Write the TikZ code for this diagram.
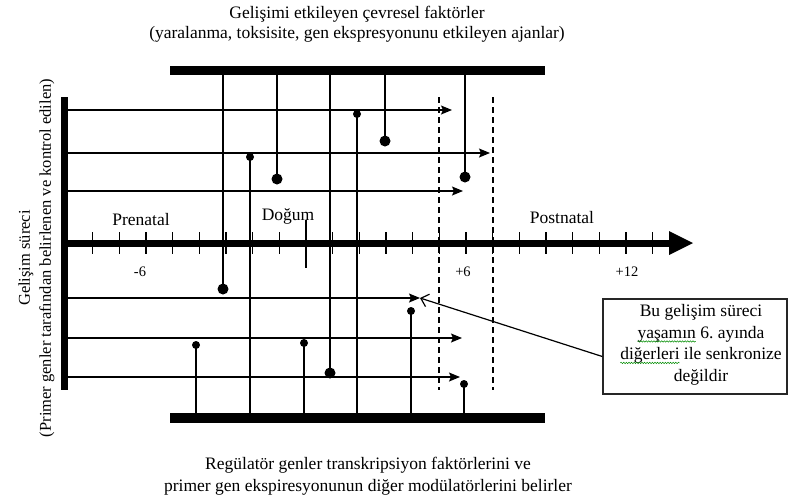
\documentclass[tikz,border=0pt]{standalone}
\usepackage{fontspec}
\setmainfont{Liberation Serif}
\usetikzlibrary{arrows.meta,decorations.pathmorphing}

% spell-check style green wavy underline
\newcommand\wavyword[1]{\tikz[baseline=(w.base)]{\node[inner sep=0pt,outer sep=0pt](w){#1};
  \draw[overlay,draw=green!55!black,line width=0.5pt,decorate,
        decoration={snake,amplitude=0.7pt,segment length=2.6pt}]
        ([yshift=-3pt]w.base west) -- ([yshift=-3pt]w.base east);}}

\begin{document}
\begin{tikzpicture}[x=1pt,y=-1pt,
  thickbar/.style={line width=9.5pt},
  sidebar/.style={line width=7pt},
  thinline/.style={line width=1.3pt},
  arrline/.style={thinline,-{Stealth[length=11pt,width=9pt,inset=2pt]}},
  tickmark/.style={line width=1.5pt},
  dashline/.style={line width=1.5pt,dash pattern=on 6pt off 4pt},
  bigdot/.style={circle,fill,inner sep=0pt,minimum size=11pt},
  smalldot/.style={circle,fill,inner sep=0pt,minimum size=8pt},
  bigtext/.style={font=\fontsize{17.5}{21}\selectfont,inner sep=0pt,align=center},
  numtext/.style={font=\fontsize{14.5}{17}\selectfont,inner sep=0pt},
  notebox/.style={draw=black!85,line width=1.4pt,minimum width=184pt,minimum height=95pt,inner sep=0pt}
]
\useasboundingbox (0,0) rectangle (795,499);

% ---- horizontal developmental lines (from the side bar) ----
\foreach \y/\t [count=\i] in {110/452,153/490,191/463,298/420,338/462,377/460}{
  \coordinate (hs\i) at (68,\y);
  \coordinate (he\i) at (\t,\y);
  \draw[arrline] (hs\i) -- (he\i);
}

% ---- dashed time window ----
\coordinate (da1) at (439,97);  \coordinate (db1) at (439,390);
\coordinate (da2) at (493,97);  \coordinate (db2) at (493,390);
\draw[dashline] (da1) -- (db1);
\draw[dashline] (da2) -- (db2);

% ---- environmental influences (from the top bar) ----
\foreach \x/\y [count=\i] in {223/289,277/179,330/373,385/141,465/177}{
  \coordinate (ta\i) at (\x,70);
  \node[bigdot] (tb\i) at (\x,\y) {};
  \draw[thinline] (ta\i) -- (tb\i.center);
}

% ---- regulatory influences (from the bottom bar) ----
\foreach \x/\y [count=\i] in {196/345,250/157,304/343,357/114,411/311,464/384}{
  \coordinate (ba\i) at (\x,418);
  \node[smalldot] (bb\i) at (\x,\y) {};
  \draw[thinline] (ba\i) -- (bb\i.center);
}

% ---- time axis ----
\coordinate (ax0) at (64,243);
\coordinate (ax1) at (672,243);
\draw[sidebar] (ax0) -- (ax1);
\fill (669,231) -- (693,243) -- (669,255) -- cycle;
\foreach \v in {-8,...,13}{
  \draw[tickmark] ({306+26.67*\v},232) -- ({306+26.67*\v},254);
}
\coordinate (birthA) at (306,220);
\coordinate (birthB) at (306,268);
\draw[tickmark] (birthA) -- (birthB);

% ---- bars ----
\coordinate (sbA) at (64.5,97);  \coordinate (sbB) at (64.5,390);
\draw[sidebar] (sbA) -- (sbB);
\coordinate (tbA) at (170,70.5); \coordinate (tbB) at (545,70.5);
\draw[thickbar] (tbA) -- (tbB);
\coordinate (bbA) at (170,418);  \coordinate (bbB) at (545,418);
\draw[thickbar] (bbA) -- (bbB);

% ---- axis labels ----
\node[bigtext] (pre)  at (141,220) {Prenatal};
\node[bigtext] (dog)  at (288,216) {Doğum};
\node[bigtext] (post) at (562,218) {Postnatal};
\node[numtext] (m6)  at (140,272) {-6};
\node[numtext] (p6)  at (463,272) {+6};
\node[numtext] (p12) at (627,272) {+12};

% ---- titles ----
\node[bigtext,font=\fontsize{17.5}{20.5}\selectfont] (toptitle) at (357,24)
  {Gelişimi etkileyen çevresel faktörler\\(yaralanma, toksisite, gen ekspresyonunu etkileyen ajanlar)};
\node[bigtext,font=\fontsize{17.5}{22}\selectfont] (bottitle) at (368,476)
  {Regülatör genler transkripsiyon faktörlerini ve\\primer gen ekspiresyonunun diğer modülatörlerini belirler};
\node[bigtext,font=\fontsize{16.5}{21}\selectfont,rotate=90] (sidetitle) at (36.5,258)
  {Gelişim süreci\\(Primer genler tarafından belirlenen ve kontrol edilen)};

% ---- callout ----
\node[notebox] (note) at (695,346.5) {};
\node[bigtext,font=\fontsize{17.5}{21.5}\selectfont] (notetext) at (701,345)
  {Bu gelişim süreci\\\wavyword{yaşamın} 6.\ ayında\\\wavyword{diğerleri} ile senkronize\\değildir};
\draw[line width=1.2pt,-{Straight Barb[length=7pt,width=13pt]}] ([yshift=-10pt]note.west) -- (he4);
\end{tikzpicture}
\end{document}
